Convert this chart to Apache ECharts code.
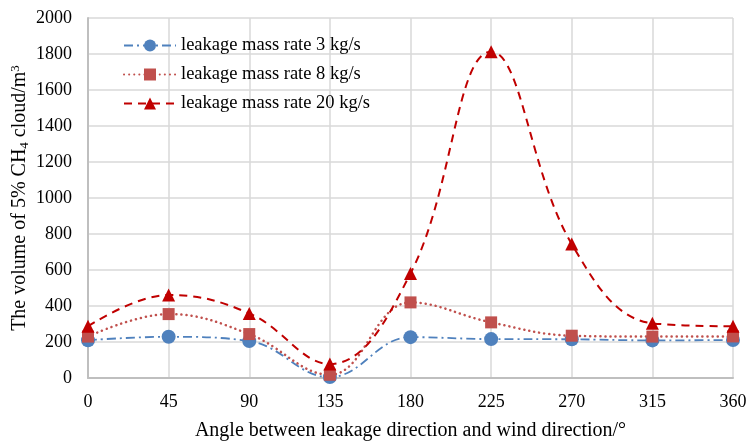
<!DOCTYPE html>
<html>
<head>
<meta charset="utf-8">
<script src="https://cdn.jsdelivr.net/npm/echarts@6/dist/echarts.min.js"></script>
<style>
  html, body { margin: 0; padding: 0; background: #fff; }
  #chart { width: 747px; height: 442px; }
</style>
</head>
<body>
<div id="chart"></div>
<script>
  // angle categories (x axis)
  const angles = ['0', '45', '90', '135', '180', '225', '270', '315', '360'];
  // cloud volume per leakage rate
  const rate3 = [210, 229, 205, 5, 227, 216, 215, 209, 211];
  const rate8 = [230, 355, 244, 18, 420, 309, 235, 230, 231];
  const rate20 = [287, 461, 359, 78, 581, 1813, 744, 304, 287];
  const seriesNames = ['leakage mass rate 3 kg/s', 'leakage mass rate 8 kg/s', 'leakage mass rate 20 kg/s'];

  const font = '"Liberation Serif", "Times New Roman", serif';
  const chart = echarts.init(document.getElementById('chart'));

  const option = {
    backgroundColor: '#fff',
    animation: false,
    textStyle: { fontFamily: font },
    grid: { left: 88, right: 14, top: 18, bottom: 64, outerBoundsMode: 'none', containLabel: false },
    legend: {
      orient: 'vertical',
      left: 118,
      top: 31,
      itemWidth: 52,
      itemHeight: 15,
      itemGap: 10,
      textStyle: { fontFamily: font, fontSize: 18.5, color: '#000' },
      data: seriesNames
    },
    xAxis: {
      type: 'category',
      data: angles,
      boundaryGap: false,
      name: 'Angle between leakage direction and wind direction/°',
      nameLocation: 'middle',
      nameGap: 43,
      nameTextStyle: { fontFamily: font, fontSize: 20, color: '#000' },
      axisLine: { lineStyle: { color: '#bfbfbf', width: 2 } },
      axisTick: { show: false },
      axisLabel: { fontFamily: font, fontSize: 18, color: '#000', margin: 15 },
      splitLine: { show: true, lineStyle: { color: '#d9d9d9', width: 1.5 } }
    },
    yAxis: {
      type: 'value',
      min: 0,
      max: 2000,
      interval: 200,
      name: '{t|The volume of 5% CH}{sub|4}{t| cloud/m}{sup|3}',
      nameLocation: 'middle',
      nameGap: 57,
      nameMoveOverlap: false,
      nameRotate: 90,
      nameTextStyle: {
        color: '#000',
        rich: {
          t: { fontFamily: font, fontSize: 20, color: '#000' },
          sub: { fontFamily: font, fontSize: 13, color: '#000', verticalAlign: 'bottom', padding: [9, 0, 0, 0] },
          sup: { fontFamily: font, fontSize: 13, color: '#000', verticalAlign: 'top', padding: [0, 0, 9, 0] }
        }
      },
      axisLine: { show: true, lineStyle: { color: '#bfbfbf', width: 2 } },
      axisTick: { show: false },
      axisLabel: {
        fontFamily: font, fontSize: 18, color: '#000', margin: 16,
        formatter: function (v) { return String(v); }
      },
      splitLine: { lineStyle: { color: '#d9d9d9', width: 1.5 } }
    },
    series: [
      {
        name: seriesNames[0],
        type: 'line',
        data: rate3,
        smooth: 0.4,
        symbol: 'circle',
        symbolSize: 14,
        itemStyle: { color: '#4f81bd' },
        lineStyle: { color: '#4f81bd', width: 1.8, type: [9, 4, 2, 4] },
        z: 2
      },
      {
        name: seriesNames[1],
        type: 'line',
        data: rate8,
        smooth: 0.4,
        symbol: 'rect',
        symbolSize: 12,
        itemStyle: { color: '#c0504d' },
        lineStyle: { color: '#c0504d', width: 2.5, type: [0.1, 5], cap: 'round' },
        z: 3
      },
      {
        name: seriesNames[2],
        type: 'line',
        data: rate20,
        smooth: 0.4,
        symbol: 'triangle',
        symbolSize: 13,
        itemStyle: { color: '#c00000' },
        lineStyle: { color: '#c00000', width: 2, type: [8, 6] },
        z: 4
      }
    ]
  };

  chart.setOption(option);
</script>
</body>
</html>
